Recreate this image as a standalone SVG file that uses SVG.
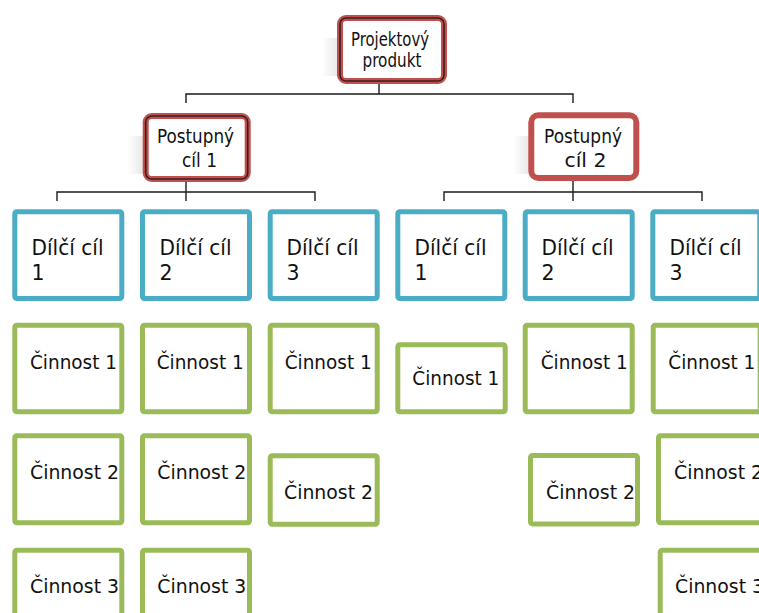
<svg xmlns="http://www.w3.org/2000/svg" width="759" height="613" viewBox="0 0 759 613">
  <defs>
    <linearGradient id="shade" x1="0" y1="0" x2="1" y2="0">
      <stop offset="0" stop-color="#ffffff"/>
      <stop offset="1" stop-color="#e2e2e2"/>
    </linearGradient>
    <style>
      text { font-family: "DejaVu Sans", "Liberation Sans", sans-serif; fill: #111; }
      .lbl-red { font-size: 19px; }
      .lbl-blue { font-size: 20.5px; }
      .lbl-green { font-size: 19px; }
      .red-outer { fill: #fff; stroke: #c0504d; stroke-width: 6; }
      .red-core { fill: none; stroke: #3b2020; stroke-width: 1.6; }
      .red-solid { fill: #fff; stroke: #c0504d; stroke-width: 6; }
      .blue { fill: #fff; stroke: #4bacc6; stroke-width: 5; }
      .green { fill: #fff; stroke: #9bbb59; stroke-width: 5; }
      .link { fill: none; stroke: #1a1a1a; stroke-width: 1.4; }
      .shade { fill: url(#shade); }
    </style>
  </defs>

  <!-- connectors -->
  <g id="connectors">
    <path class="link" d="M379 84 V94 M186 103 V94 H573 V103"/>
    <path class="link" d="M186 181 V192 M57 201 V192 H315 V201 M186 192 V201"/>
    <path class="link" d="M573 181 V192 M444 201 V192 H702 V201 M573 192 V201"/>
  </g>

  <!-- level 1 -->
  <g id="projektovy-produkt">
    <rect class="shade" x="322" y="38" width="20" height="38"/>
    <rect class="red-outer" x="340" y="18" width="104" height="63" rx="6"/>
    <rect class="red-core" x="340" y="18" width="104" height="63" rx="6"/>
    <text class="lbl-red" x="351" y="45.8" textLength="78" lengthAdjust="spacingAndGlyphs">Projektový</text>
    <text class="lbl-red" x="362.5" y="66.8" textLength="59" lengthAdjust="spacingAndGlyphs">produkt</text>
  </g>

  <!-- level 2 -->
  <g id="postupny-cil-1">
    <rect class="shade" x="127" y="136" width="20" height="38"/>
    <rect class="red-outer" x="145.7" y="116" width="102" height="63" rx="6"/>
    <rect class="red-core" x="145.7" y="116" width="102" height="63" rx="6"/>
    <text class="lbl-red" x="157" y="142.5" textLength="77" lengthAdjust="spacingAndGlyphs">Postupný</text>
    <text class="lbl-red" x="182" y="166.5" textLength="35" lengthAdjust="spacingAndGlyphs">cíl 1</text>
  </g>
  <g id="postupny-cil-2">
    <rect class="shade" x="513" y="136" width="20" height="38"/>
    <rect class="red-solid" x="531.3" y="115.3" width="105" height="62.7" rx="7"/>
    <text class="lbl-red" x="544" y="142.5" textLength="78" lengthAdjust="spacingAndGlyphs">Postupný</text>
    <text class="lbl-red" x="564.5" y="166.5" textLength="42" lengthAdjust="spacingAndGlyphs">cíl 2</text>
  </g>

  <!-- level 3: partial goals -->
  <g id="dilci-cil-1-1">
    <rect class="blue" x="14.8" y="211.8" width="107" height="86.7" rx="2"/>
    <text class="lbl-blue" x="31.5" y="255" textLength="72" lengthAdjust="spacingAndGlyphs">Dílčí cíl</text>
    <text class="lbl-blue" x="31.5" y="280">1</text>
  </g>
  <g id="dilci-cil-1-2">
    <rect class="blue" x="142.5" y="211.8" width="107" height="86.7" rx="2"/>
    <text class="lbl-blue" x="159.5" y="255" textLength="72" lengthAdjust="spacingAndGlyphs">Dílčí cíl</text>
    <text class="lbl-blue" x="159.5" y="280">2</text>
  </g>
  <g id="dilci-cil-1-3">
    <rect class="blue" x="270.2" y="211.8" width="107" height="86.7" rx="2"/>
    <text class="lbl-blue" x="286.5" y="255" textLength="72" lengthAdjust="spacingAndGlyphs">Dílčí cíl</text>
    <text class="lbl-blue" x="286.5" y="280">3</text>
  </g>
  <g id="dilci-cil-2-1">
    <rect class="blue" x="397.8" y="211.8" width="107" height="86.7" rx="2"/>
    <text class="lbl-blue" x="414.5" y="255" textLength="72" lengthAdjust="spacingAndGlyphs">Dílčí cíl</text>
    <text class="lbl-blue" x="414.5" y="280">1</text>
  </g>
  <g id="dilci-cil-2-2">
    <rect class="blue" x="525.2" y="211.8" width="107" height="86.7" rx="2"/>
    <text class="lbl-blue" x="541.5" y="255" textLength="72" lengthAdjust="spacingAndGlyphs">Dílčí cíl</text>
    <text class="lbl-blue" x="541.5" y="280">2</text>
  </g>
  <g id="dilci-cil-2-3">
    <rect class="blue" x="652.8" y="211.8" width="107" height="86.7" rx="2"/>
    <text class="lbl-blue" x="669.5" y="255" textLength="72" lengthAdjust="spacingAndGlyphs">Dílčí cíl</text>
    <text class="lbl-blue" x="669.5" y="280">3</text>
  </g>

  <!-- level 4: activities -->
  <g id="cinnost-1-1-1">
    <rect class="green" x="14.8" y="325.2" width="107" height="86.6" rx="2"/>
    <text class="lbl-green" x="30" y="369" textLength="87" lengthAdjust="spacingAndGlyphs">Činnost 1</text>
  </g>
  <g id="cinnost-1-1-2">
    <rect class="green" x="14.8" y="435.8" width="107" height="87" rx="2"/>
    <text class="lbl-green" x="30" y="479.3" textLength="89" lengthAdjust="spacingAndGlyphs">Činnost 2</text>
  </g>
  <g id="cinnost-1-1-3">
    <rect class="green" x="14.8" y="550.2" width="107" height="87" rx="2"/>
    <text class="lbl-green" x="30" y="593.3" textLength="89" lengthAdjust="spacingAndGlyphs">Činnost 3</text>
  </g>

  <g id="cinnost-1-2-1">
    <rect class="green" x="142.5" y="325.2" width="107" height="86.6" rx="2"/>
    <text class="lbl-green" x="156.7" y="369" textLength="87" lengthAdjust="spacingAndGlyphs">Činnost 1</text>
  </g>
  <g id="cinnost-1-2-2">
    <rect class="green" x="142.5" y="435.8" width="107" height="87" rx="2"/>
    <text class="lbl-green" x="157.3" y="479.3" textLength="89" lengthAdjust="spacingAndGlyphs">Činnost 2</text>
  </g>
  <g id="cinnost-1-2-3">
    <rect class="green" x="142.5" y="550.2" width="107" height="87" rx="2"/>
    <text class="lbl-green" x="157.3" y="593.3" textLength="89" lengthAdjust="spacingAndGlyphs">Činnost 3</text>
  </g>

  <g id="cinnost-1-3-1">
    <rect class="green" x="270.2" y="325.2" width="107" height="86.6" rx="2"/>
    <text class="lbl-green" x="284.7" y="369" textLength="87" lengthAdjust="spacingAndGlyphs">Činnost 1</text>
  </g>
  <g id="cinnost-1-3-2">
    <rect class="green" x="270.2" y="455.8" width="107" height="68.4" rx="2"/>
    <text class="lbl-green" x="284" y="499.3" textLength="89" lengthAdjust="spacingAndGlyphs">Činnost 2</text>
  </g>

  <g id="cinnost-2-1-1">
    <rect class="green" x="397.8" y="344.8" width="107.4" height="67" rx="2"/>
    <text class="lbl-green" x="412.3" y="385" textLength="87" lengthAdjust="spacingAndGlyphs">Činnost 1</text>
  </g>

  <g id="cinnost-2-2-1">
    <rect class="green" x="525.2" y="325.2" width="107" height="86.6" rx="2"/>
    <text class="lbl-green" x="540.7" y="369" textLength="87" lengthAdjust="spacingAndGlyphs">Činnost 1</text>
  </g>
  <g id="cinnost-2-2-2">
    <rect class="green" x="530.5" y="455.5" width="107" height="68.4" rx="2"/>
    <text class="lbl-green" x="546" y="499" textLength="89" lengthAdjust="spacingAndGlyphs">Činnost 2</text>
  </g>

  <g id="cinnost-2-3-1">
    <rect class="green" x="653.2" y="325.2" width="107" height="86.6" rx="2"/>
    <text class="lbl-green" x="668.3" y="369" textLength="87" lengthAdjust="spacingAndGlyphs">Činnost 1</text>
  </g>
  <g id="cinnost-2-3-2">
    <rect class="green" x="658.5" y="435.8" width="107" height="87" rx="2"/>
    <text class="lbl-green" x="674" y="479.3" textLength="89" lengthAdjust="spacingAndGlyphs">Činnost 2</text>
  </g>
  <g id="cinnost-2-3-3">
    <rect class="green" x="660.2" y="550.2" width="107" height="87" rx="2"/>
    <text class="lbl-green" x="675" y="593.3" textLength="89" lengthAdjust="spacingAndGlyphs">Činnost 3</text>
  </g>
</svg>
